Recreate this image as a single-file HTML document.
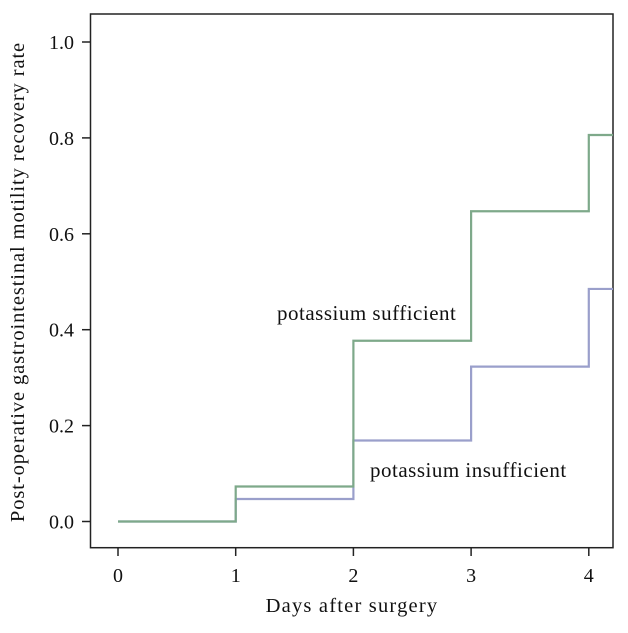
<!DOCTYPE html>
<html><head><meta charset="utf-8"><style>
body{margin:0;background:#fff}
svg{display:block;font-family:"Liberation Serif",serif}
</style></head><body>
<svg width="628" height="633" viewBox="0 0 628 633">
<rect x="90.5" y="14" width="522.5" height="533.7" fill="none" stroke="#222" stroke-width="1.5"/>
<g id="axes"></g>
<g id="series"></g>
<text x="24" y="282" transform="rotate(-90 24 282)" text-anchor="middle" font-size="20.5" letter-spacing="0.9" fill="#111">Post-operative gastrointestinal motility recovery rate</text>
<text x="352" y="612" text-anchor="middle" font-size="20.5" letter-spacing="1.2" fill="#111">Days after surgery</text>
<text x="277" y="320" font-size="21" letter-spacing="0.5" fill="#111">potassium sufficient</text>
<text x="370" y="477" font-size="21" letter-spacing="0.5" fill="#111">potassium insufficient</text>
</svg>
<script>
const days = [0, 1, 2, 3, 4];
const sufficient = [0, 0.073, 0.377, 0.647, 0.806];
const insufficient = [0, 0.047, 0.169, 0.323, 0.485];
const xTicks = [0, 1, 2, 3, 4];
const yTicks = [0, 0.2, 0.4, 0.6, 0.8, 1.0];

const NS = "http://www.w3.org/2000/svg";
const xs = d => 118 + d * 117.7;
const ys = v => 521.5 - v * 479.5;
const xEnd = 613;
const axes = document.getElementById('axes');
const series = document.getElementById('series');
function mk(tag, attrs, parent){const e=document.createElementNS(NS,tag);for(const k in attrs)e.setAttribute(k,attrs[k]);parent.appendChild(e);return e;}
xTicks.forEach(t=>{
  const l=mk('line',{x1:xs(t),x2:xs(t),y1:547.7,y2:556,stroke:'#222','stroke-width':1.5},axes);
  
  
  const tx=mk('text',{x:xs(t),y:582,'text-anchor':'middle','font-size':20,fill:'#111'},axes);
  tx.textContent=String(t);
  
  
});
yTicks.forEach(t=>{
  const l=mk('line',{x1:82,x2:90.5,y1:ys(t),y2:ys(t),stroke:'#222','stroke-width':1.5},axes);
  
  
  const tx=mk('text',{x:74,y:ys(t)+7,'text-anchor':'end','font-size':20,fill:'#111'},axes);
  tx.textContent=t.toFixed(1);
  
  
});
function step(vals,color,name){
  let d='M'+xs(days[0])+','+ys(vals[0]);
  for(let i=1;i<days.length;i++){d+=' H'+xs(days[i])+' V'+ys(vals[i]);}
  d+=' H'+xEnd;
  const p=mk('path',{d:d,fill:'none',stroke:color,'stroke-width':2.2},series);
  
  
}
step(insufficient,'#9a9fcb','line-potassium-insufficient');
step(sufficient,'#7ea98a','line-potassium-sufficient');
</script>
</body></html>
